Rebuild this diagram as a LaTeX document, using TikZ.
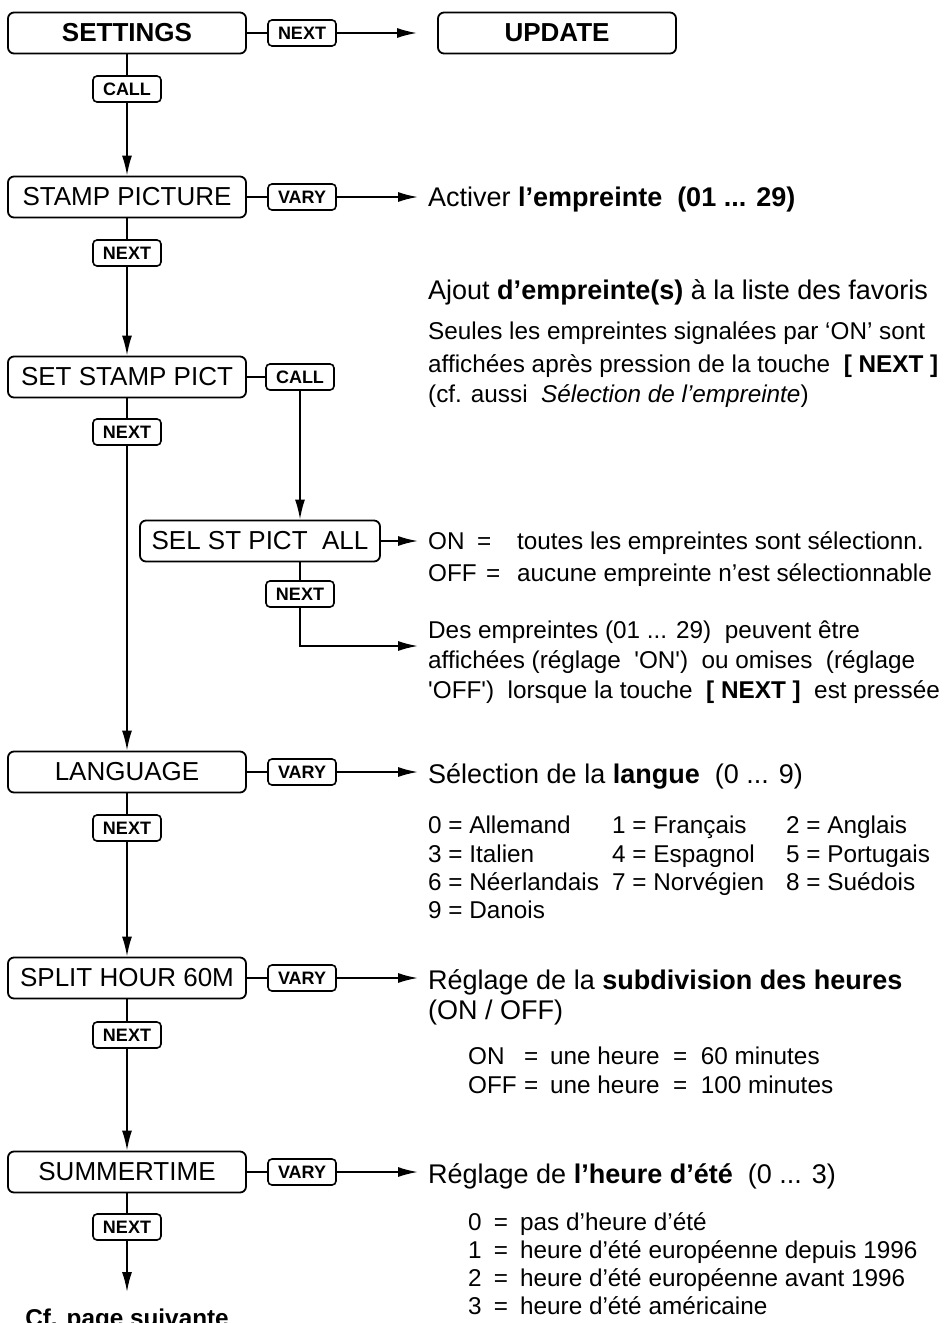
\documentclass[tikz,border=0pt]{standalone}
\usepackage{fontspec}
\setmainfont{Liberation Sans}
\usetikzlibrary{arrows.meta}
\newcommand{\boxfont}{\fontsize{26}{30}\selectfont}
\newcommand{\headfont}{\fontsize{27}{31}\selectfont}
\newcommand{\notefont}{\fontsize{24.3}{28}\selectfont}
\tikzstyle{box}=[rectangle, rounded corners=6pt, draw=black, line width=1.8pt, minimum width=238pt, minimum height=41pt, inner sep=0pt, anchor=center, font=\boxfont]
\tikzstyle{btn}=[rectangle, rounded corners=4pt, draw=black, line width=1.6pt, minimum width=68pt, minimum height=26pt, inner sep=0pt, font=\fontsize{18}{20}\selectfont\bfseries]
\tikzstyle{annot}=[anchor=base west, inner sep=0pt, font=\headfont]
\tikzstyle{note}=[anchor=base west, inner sep=0pt, font=\notefont]
\tikzstyle{link}=[line width=1.8pt]
\tikzstyle{flow}=[line width=1.8pt, -{Latex[length=20pt,width=10pt]}]
\begin{document}
\begin{tikzpicture}[x=1pt,y=-1pt]
	\useasboundingbox (0,0) rectangle (944,1323);

	% top row
	\node[box, font=\boxfont\bfseries](settings) at (127,33){SETTINGS};
	\node[btn](nextH) at (302,33){NEXT};
	\node[box, font=\boxfont\bfseries](update) at (557,33){UPDATE};
	\draw[link] (settings) -- (nextH);
	\draw[flow, shorten >=20pt] (nextH) -- (update);

	% left column
	\node[btn](call1) at (127,89){CALL};
	\node[box](stamp) at (127,197){STAMP PICTURE};
	\node[btn](next1) at (127,253){NEXT};
	\node[box](setst) at (127,377){SET STAMP PICT};
	\node[btn](next2) at (127,432){NEXT};
	\node[box](lang) at (127,772){LANGUAGE};
	\node[btn](next3) at (127,828){NEXT};
	\node[box](split) at (127,978){SPLIT HOUR 60M};
	\node[btn](next4) at (127,1035){NEXT};
	\node[box](summer) at (127,1172){SUMMERTIME};
	\node[btn](next5) at (127,1227){NEXT};
	\coordinate (more) at (127,1292);
	\node[font=\notefont\bfseries](cfpage) at (127,1320){Cf. page suivante};

	\draw[link] (settings) -- (call1);
	\draw[flow] (call1) -- (stamp);
	\draw[link] (stamp) -- (next1);
	\draw[flow] (next1) -- (setst);
	\draw[link] (setst) -- (next2);
	\draw[flow] (next2) -- (lang);
	\draw[link] (lang) -- (next3);
	\draw[flow] (next3) -- (split);
	\draw[link] (split) -- (next4);
	\draw[flow] (next4) -- (summer);
	\draw[link] (summer) -- (next5);
	\draw[flow] (next5) -- (more);

	% sub menu
	\node[btn](callH) at (300,377){CALL};
	\node[box, minimum width=240pt](sel) at (260,541){SEL ST PICT\ \ ALL};
	\node[btn](selnext) at (300,594){NEXT};
	\draw[link] (setst) -- (callH);
	\draw[flow] (callH) -- (callH |- sel.north);
	\draw[link] (selnext |- sel.south) -- (selnext);

	% vary buttons
	\node[btn](vary1) at (302,197){VARY};
	\node[btn](vary2) at (302,772){VARY};
	\node[btn](vary3) at (302,978){VARY};
	\node[btn](vary4) at (302,1172){VARY};
	\draw[link] (stamp) -- (vary1);
	\draw[link] (lang) -- (vary2);
	\draw[link] (split) -- (vary3);
	\draw[link] (summer) -- (vary4);

	% texts
	\node[annot](act) at (428,206){Activer \textbf{l’empreinte\ \ (01 ... 29)}};
	\node[annot](ajout) at (428,299){Ajout \textbf{d’empreinte(s)} à la liste des favoris};
	\node[note](seul1) at (428,339){Seules les empreintes signalées par ‘ON’ sont};
	\node[note](seul2) at (428,372){affichées après pression de la touche\ \ \textbf{[ NEXT ]}};
	\node[note](seul3) at (428,402){(cf. aussi\ \ \textit{Sélection de l’empreinte})};

	\node[note](on) at (428,549){\makebox[49pt][l]{ON}\makebox[40pt][l]{=}toutes les empreintes sont sélectionn.};
	\node[note](off) at (428,581){\makebox[58pt][l]{OFF}\makebox[31pt][l]{=}aucune empreinte n’est sélectionnable};
	\node[note](des1) at (428,638){Des empreintes (01 ... 29)\ \ peuvent être};
	\node[note](des2) at (428,668){affichées (réglage\ \ \textquotesingle ON\textquotesingle)\ \ ou omises\ \ (réglage};
	\node[note](des3) at (428,698){\textquotesingle OFF\textquotesingle)\ \ lorsque la touche\ \ \textbf{[ NEXT ]}\ \ est pressée};

	\node[annot](langsel) at (428,783){Sélection de la \textbf{langue}\ \ (0 ... 9)};
	\node[note](l0) at (428,833){0 = Allemand};
	\node[note](l1) at (612,833){1 = Français};
	\node[note](l2) at (786,833){2 = Anglais};
	\node[note](l3) at (428,862){3 = Italien};
	\node[note](l4) at (612,862){4 = Espagnol};
	\node[note](l5) at (786,862){5 = Portugais};
	\node[note](l6) at (428,890){6 = Néerlandais};
	\node[note](l7) at (612,890){7 = Norvégien};
	\node[note](l8) at (786,890){8 = Suédois};
	\node[note](l9) at (428,918){9 = Danois};

	\node[annot](subdiv) at (428,989){Réglage de la \textbf{subdivision des heures}};
	\node[annot](onoff) at (428,1019){(ON / OFF)};
	\node[note](h60) at (468,1064){\makebox[56pt][l]{ON}\makebox[26pt][l]{=}une heure\ \ =\ \ 60 minutes};
	\node[note](h100) at (468,1093){\makebox[56pt][l]{OFF}\makebox[26pt][l]{=}une heure\ \ =\ \ 100 minutes};

	\node[annot](ete) at (428,1183){Réglage de \textbf{l’heure d’été}\ \ (0 ... 3)};
	\node[note](e0) at (468,1230){0\hspace{0.5em}=\hspace{0.5em}pas d’heure d’été};
	\node[note](e1) at (468,1258){1\hspace{0.5em}=\hspace{0.5em}heure d’été européenne depuis 1996};
	\node[note](e2) at (468,1286){2\hspace{0.5em}=\hspace{0.5em}heure d’été européenne avant 1996};
	\node[note](e3) at (468,1314){3\hspace{0.5em}=\hspace{0.5em}heure d’été américaine};

	% arrows to texts
	\draw[flow, shorten >=10pt] (vary1) -- (vary1 -| act.west);
	\draw[flow, shorten >=10pt] (sel) -- (sel -| on.west);
	\draw[flow, shorten >=10pt] (selnext) |- ([yshift=-8pt]des1.base west);
	\draw[flow, shorten >=10pt] (vary2) -- (vary2 -| langsel.west);
	\draw[flow, shorten >=10pt] (vary3) -- (vary3 -| subdiv.west);
	\draw[flow, shorten >=10pt] (vary4) -- (vary4 -| ete.west);
\end{tikzpicture}
\end{document}
